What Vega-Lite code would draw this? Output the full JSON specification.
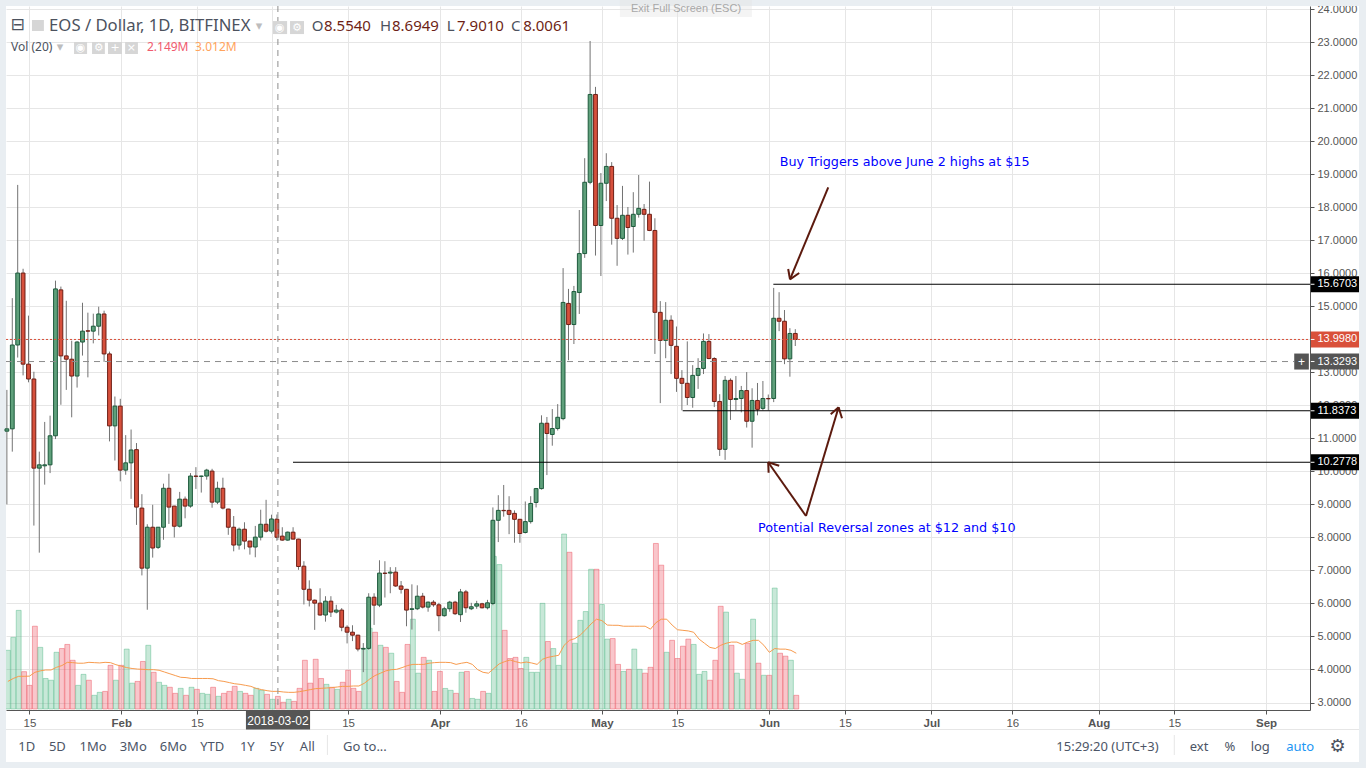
{
  "$schema": "https://vega.github.io/schema/vega-lite/v6.json",
  "description": "EOS / Dollar daily candles with volume, MA 20 and hand drawn support levels",
  "width": 1304,
  "height": 704,
  "autosize": "none",
  "padding": {"left": 6, "top": 6, "right": 56, "bottom": 58},
  "background": "#ffffff",
  "config": {"view": {"stroke": null}},
  "datasets": {
    "ohlc": [
      {"date":"2018-01-11","open":11.22,"high":12.47,"low":9.0,"close":11.29,"volume":10.0,"ma":4.7},
      {"date":"2018-01-12","open":11.29,"high":15.25,"low":10.6,"close":13.83,"volume":12.2,"ma":5.2},
      {"date":"2018-01-13","open":13.83,"high":18.68,"low":13.45,"close":16.01,"volume":16.8,"ma":5.57},
      {"date":"2018-01-14","open":16.01,"high":16.14,"low":12.91,"close":13.25,"volume":6.36,"ma":5.57},
      {"date":"2018-01-15","open":13.25,"high":14.72,"low":12.7,"close":12.8,"volume":4.03,"ma":5.6},
      {"date":"2018-01-16","open":12.8,"high":13.02,"low":8.36,"close":10.1,"volume":14.1,"ma":6.25},
      {"date":"2018-01-17","open":10.1,"high":10.6,"low":7.54,"close":10.2,"volume":10.5,"ma":6.5},
      {"date":"2018-01-18","open":10.17,"high":11.5,"low":9.6,"close":10.2,"volume":5.2,"ma":6.65},
      {"date":"2018-01-19","open":10.2,"high":11.69,"low":9.95,"close":11.08,"volume":4.9,"ma":6.65},
      {"date":"2018-01-20","open":11.08,"high":15.78,"low":10.98,"close":15.53,"volume":9.66,"ma":7.1},
      {"date":"2018-01-21","open":15.5,"high":15.6,"low":12.02,"close":13.5,"volume":10.3,"ma":7.4},
      {"date":"2018-01-22","open":13.5,"high":15.17,"low":12.47,"close":13.4,"volume":11.0,"ma":7.95},
      {"date":"2018-01-23","open":13.4,"high":13.96,"low":11.64,"close":12.89,"volume":8.3,"ma":7.9},
      {"date":"2018-01-24","open":12.89,"high":13.95,"low":12.54,"close":13.92,"volume":4.03,"ma":7.8},
      {"date":"2018-01-25","open":13.92,"high":15.11,"low":13.51,"close":14.25,"volume":5.9,"ma":7.8},
      {"date":"2018-01-26","open":14.26,"high":14.81,"low":12.85,"close":14.25,"volume":4.9,"ma":7.95},
      {"date":"2018-01-27","open":14.25,"high":14.78,"low":13.88,"close":14.4,"volume":2.33,"ma":7.9},
      {"date":"2018-01-28","open":14.4,"high":14.99,"low":14.12,"close":14.77,"volume":2.84,"ma":7.85},
      {"date":"2018-01-29","open":14.77,"high":14.87,"low":13.32,"close":13.56,"volume":3.0,"ma":7.95},
      {"date":"2018-01-30","open":13.56,"high":13.63,"low":10.91,"close":11.38,"volume":7.44,"ma":7.9},
      {"date":"2018-01-31","open":11.38,"high":12.27,"low":10.33,"close":11.98,"volume":4.9,"ma":7.55},
      {"date":"2018-02-01","open":11.98,"high":12.2,"low":9.7,"close":10.04,"volume":7.44,"ma":7.3},
      {"date":"2018-02-02","open":10.04,"high":11.1,"low":9.9,"close":10.26,"volume":10.2,"ma":7.05},
      {"date":"2018-02-03","open":10.26,"high":11.27,"low":9.17,"close":10.65,"volume":4.4,"ma":6.9},
      {"date":"2018-02-04","open":10.66,"high":10.86,"low":8.38,"close":8.92,"volume":4.7,"ma":6.8},
      {"date":"2018-02-05","open":8.89,"high":9.31,"low":6.85,"close":7.07,"volume":8.1,"ma":6.76},
      {"date":"2018-02-06","open":7.07,"high":8.4,"low":5.81,"close":8.31,"volume":10.85,"ma":6.7},
      {"date":"2018-02-07","open":8.31,"high":8.99,"low":7.39,"close":7.68,"volume":6.25,"ma":6.7},
      {"date":"2018-02-08","open":7.7,"high":8.31,"low":7.65,"close":8.31,"volume":4.55,"ma":6.6},
      {"date":"2018-02-09","open":8.31,"high":9.63,"low":7.93,"close":9.49,"volume":4.03,"ma":6.3},
      {"date":"2018-02-10","open":9.49,"high":9.93,"low":8.41,"close":8.92,"volume":3.7,"ma":6.0},
      {"date":"2018-02-11","open":8.95,"high":8.96,"low":8.0,"close":8.34,"volume":2.67,"ma":5.7},
      {"date":"2018-02-12","open":8.34,"high":9.38,"low":8.3,"close":9.16,"volume":3.52,"ma":5.4},
      {"date":"2018-02-13","open":9.16,"high":9.24,"low":8.58,"close":8.95,"volume":2.33,"ma":5.35},
      {"date":"2018-02-14","open":8.95,"high":9.95,"low":8.9,"close":9.86,"volume":3.7,"ma":5.2},
      {"date":"2018-02-15","open":9.86,"high":10.13,"low":9.47,"close":9.85,"volume":3.35,"ma":5.2},
      {"date":"2018-02-16","open":9.85,"high":9.87,"low":9.36,"close":9.86,"volume":2.67,"ma":5.2},
      {"date":"2018-02-17","open":9.86,"high":10.08,"low":9.75,"close":10.04,"volume":2.5,"ma":5.2},
      {"date":"2018-02-18","open":10.01,"high":10.08,"low":8.9,"close":9.07,"volume":3.7,"ma":5.15},
      {"date":"2018-02-19","open":9.07,"high":9.69,"low":9.01,"close":9.49,"volume":2.16,"ma":4.83},
      {"date":"2018-02-20","open":9.49,"high":9.81,"low":8.85,"close":8.89,"volume":2.67,"ma":4.7},
      {"date":"2018-02-21","open":8.86,"high":8.87,"low":8.08,"close":8.31,"volume":3.0,"ma":4.5},
      {"date":"2018-02-22","open":8.31,"high":8.65,"low":7.58,"close":7.77,"volume":3.86,"ma":4.3},
      {"date":"2018-02-23","open":7.77,"high":8.3,"low":7.63,"close":8.25,"volume":3.0,"ma":4.2},
      {"date":"2018-02-24","open":8.25,"high":8.46,"low":7.64,"close":7.89,"volume":2.67,"ma":4.03},
      {"date":"2018-02-25","open":7.89,"high":7.9,"low":7.48,"close":7.71,"volume":2.33,"ma":3.86},
      {"date":"2018-02-26","open":7.71,"high":8.35,"low":7.4,"close":8.01,"volume":3.52,"ma":3.5},
      {"date":"2018-02-27","open":8.01,"high":8.84,"low":7.91,"close":8.4,"volume":3.18,"ma":3.3},
      {"date":"2018-02-28","open":8.4,"high":9.14,"low":8.15,"close":8.19,"volume":2.5,"ma":3.12},
      {"date":"2018-03-01","open":8.19,"high":8.69,"low":8.12,"close":8.56,"volume":1.65,"ma":3.0},
      {"date":"2018-03-02","open":8.554,"high":8.6949,"low":7.901,"close":8.0061,"volume":2.149,"ma":3.012},
      {"date":"2018-03-03","open":8.04,"high":8.31,"low":7.9,"close":7.92,"volume":1.14,"ma":2.9},
      {"date":"2018-03-04","open":7.92,"high":8.18,"low":7.9,"close":8.16,"volume":1.65,"ma":2.84},
      {"date":"2018-03-05","open":8.16,"high":8.31,"low":7.94,"close":7.95,"volume":1.3,"ma":2.84},
      {"date":"2018-03-06","open":7.95,"high":7.96,"low":7.02,"close":7.12,"volume":3.52,"ma":2.95},
      {"date":"2018-03-07","open":7.13,"high":7.28,"low":5.97,"close":6.43,"volume":8.3,"ma":3.12},
      {"date":"2018-03-08","open":6.43,"high":6.7,"low":5.91,"close":6.1,"volume":4.4,"ma":3.3},
      {"date":"2018-03-09","open":6.1,"high":6.12,"low":5.2,"close":6.01,"volume":8.47,"ma":3.47},
      {"date":"2018-03-10","open":6.01,"high":6.46,"low":5.63,"close":5.65,"volume":5.2,"ma":3.52},
      {"date":"2018-03-11","open":5.65,"high":6.22,"low":5.45,"close":6.07,"volume":4.2,"ma":3.58},
      {"date":"2018-03-12","open":6.07,"high":6.22,"low":5.59,"close":5.74,"volume":3.7,"ma":3.64},
      {"date":"2018-03-13","open":5.74,"high":5.96,"low":5.7,"close":5.8,"volume":3.35,"ma":3.75},
      {"date":"2018-03-14","open":5.8,"high":5.86,"low":5.16,"close":5.28,"volume":4.55,"ma":3.86},
      {"date":"2018-03-15","open":5.28,"high":5.34,"low":4.79,"close":5.13,"volume":6.6,"ma":3.86},
      {"date":"2018-03-16","open":5.13,"high":5.34,"low":4.86,"close":5.04,"volume":3.52,"ma":3.92},
      {"date":"2018-03-17","open":5.04,"high":5.05,"low":4.55,"close":4.62,"volume":3.0,"ma":3.92},
      {"date":"2018-03-18","open":4.62,"high":4.8,"low":3.92,"close":4.64,"volume":10.2,"ma":4.38},
      {"date":"2018-03-19","open":4.64,"high":6.31,"low":4.6,"close":6.19,"volume":13.75,"ma":5.1},
      {"date":"2018-03-20","open":6.19,"high":6.31,"low":5.35,"close":5.95,"volume":13.07,"ma":5.7},
      {"date":"2018-03-21","open":5.95,"high":7.31,"low":5.89,"close":6.92,"volume":10.85,"ma":6.1},
      {"date":"2018-03-22","open":6.92,"high":7.28,"low":6.18,"close":6.91,"volume":10.5,"ma":6.5},
      {"date":"2018-03-23","open":6.92,"high":7.1,"low":6.31,"close":6.95,"volume":9.5,"ma":6.7},
      {"date":"2018-03-24","open":6.95,"high":7.1,"low":6.5,"close":6.53,"volume":4.7,"ma":6.76},
      {"date":"2018-03-25","open":6.53,"high":6.68,"low":6.3,"close":6.43,"volume":2.84,"ma":7.05},
      {"date":"2018-03-26","open":6.43,"high":6.44,"low":5.31,"close":5.8,"volume":11.0,"ma":7.4},
      {"date":"2018-03-27","open":5.82,"high":6.58,"low":5.21,"close":5.84,"volume":15.3,"ma":7.6},
      {"date":"2018-03-28","open":5.84,"high":6.55,"low":5.8,"close":6.22,"volume":6.1,"ma":7.6},
      {"date":"2018-03-29","open":6.22,"high":6.32,"low":5.85,"close":5.89,"volume":8.8,"ma":7.6},
      {"date":"2018-03-30","open":5.89,"high":6.06,"low":5.75,"close":6.04,"volume":8.3,"ma":7.8},
      {"date":"2018-03-31","open":6.04,"high":6.1,"low":5.9,"close":5.96,"volume":3.0,"ma":7.9},
      {"date":"2018-04-01","open":5.96,"high":6.02,"low":5.16,"close":5.63,"volume":6.4,"ma":7.95},
      {"date":"2018-04-02","open":5.63,"high":5.9,"low":5.6,"close":5.84,"volume":3.5,"ma":7.95},
      {"date":"2018-04-03","open":5.84,"high":6.08,"low":5.75,"close":6.04,"volume":3.18,"ma":7.9},
      {"date":"2018-04-04","open":6.04,"high":6.08,"low":5.65,"close":5.69,"volume":2.67,"ma":7.6},
      {"date":"2018-04-05","open":5.66,"high":6.44,"low":5.44,"close":6.35,"volume":6.25,"ma":7.8},
      {"date":"2018-04-06","open":6.35,"high":6.41,"low":5.72,"close":5.87,"volume":6.4,"ma":7.95},
      {"date":"2018-04-07","open":5.84,"high":6.02,"low":5.8,"close":5.9,"volume":1.8,"ma":7.6},
      {"date":"2018-04-08","open":5.92,"high":6.08,"low":5.84,"close":5.99,"volume":1.65,"ma":6.7},
      {"date":"2018-04-09","open":5.99,"high":6.02,"low":5.85,"close":5.87,"volume":3.0,"ma":6.25},
      {"date":"2018-04-10","open":5.87,"high":6.11,"low":5.82,"close":6.02,"volume":2.67,"ma":6.1},
      {"date":"2018-04-11","open":6.0,"high":8.91,"low":5.95,"close":8.52,"volume":26.0,"ma":6.9},
      {"date":"2018-04-12","open":8.52,"high":9.28,"low":7.86,"close":8.82,"volume":24.6,"ma":7.7},
      {"date":"2018-04-13","open":8.82,"high":9.59,"low":8.63,"close":8.81,"volume":13.4,"ma":8.07},
      {"date":"2018-04-14","open":8.82,"high":9.25,"low":8.1,"close":8.7,"volume":8.6,"ma":8.35},
      {"date":"2018-04-15","open":8.73,"high":8.82,"low":7.84,"close":8.55,"volume":8.8,"ma":8.07},
      {"date":"2018-04-16","open":8.55,"high":8.56,"low":7.84,"close":8.12,"volume":6.9,"ma":7.84},
      {"date":"2018-04-17","open":8.15,"high":9.09,"low":8.12,"close":8.48,"volume":8.8,"ma":8.0},
      {"date":"2018-04-18","open":8.48,"high":9.25,"low":8.42,"close":9.03,"volume":6.25,"ma":7.84},
      {"date":"2018-04-19","open":9.06,"high":9.5,"low":8.91,"close":9.48,"volume":6.25,"ma":7.6},
      {"date":"2018-04-20","open":9.48,"high":11.7,"low":9.45,"close":11.46,"volume":18.0,"ma":8.47},
      {"date":"2018-04-21","open":11.46,"high":11.65,"low":9.89,"close":11.15,"volume":11.5,"ma":8.8},
      {"date":"2018-04-22","open":11.12,"high":11.89,"low":10.78,"close":11.3,"volume":10.3,"ma":8.98},
      {"date":"2018-04-23","open":11.3,"high":12.04,"low":11.24,"close":11.64,"volume":7.44,"ma":9.15},
      {"date":"2018-04-24","open":11.6,"high":16.16,"low":11.55,"close":15.12,"volume":29.8,"ma":10.85},
      {"date":"2018-04-25","open":15.09,"high":15.53,"low":13.37,"close":14.45,"volume":26.7,"ma":11.7},
      {"date":"2018-04-26","open":14.45,"high":15.62,"low":13.86,"close":15.45,"volume":11.2,"ma":12.0},
      {"date":"2018-04-27","open":15.42,"high":17.92,"low":14.77,"close":16.6,"volume":15.1,"ma":12.6},
      {"date":"2018-04-28","open":16.6,"high":19.49,"low":16.47,"close":18.76,"volume":16.6,"ma":13.5},
      {"date":"2018-04-29","open":18.76,"high":23.04,"low":18.7,"close":21.42,"volume":23.8,"ma":14.5},
      {"date":"2018-04-30","open":21.42,"high":21.65,"low":16.54,"close":17.45,"volume":23.8,"ma":15.3},
      {"date":"2018-05-01","open":17.45,"high":19.04,"low":15.92,"close":18.73,"volume":17.8,"ma":15.06},
      {"date":"2018-05-02","open":18.73,"high":19.64,"low":18.19,"close":19.24,"volume":11.9,"ma":14.3},
      {"date":"2018-05-03","open":19.24,"high":19.37,"low":16.87,"close":17.67,"volume":12.0,"ma":14.26},
      {"date":"2018-05-04","open":17.67,"high":18.07,"low":16.23,"close":17.06,"volume":7.6,"ma":14.26},
      {"date":"2018-05-05","open":17.06,"high":18.65,"low":17.01,"close":17.76,"volume":6.4,"ma":14.1},
      {"date":"2018-05-06","open":17.76,"high":18.01,"low":16.57,"close":17.39,"volume":6.76,"ma":14.1},
      {"date":"2018-05-07","open":17.42,"high":18.46,"low":16.63,"close":17.79,"volume":10.2,"ma":14.1},
      {"date":"2018-05-08","open":17.79,"high":18.98,"low":17.69,"close":17.97,"volume":6.76,"ma":14.1},
      {"date":"2018-05-09","open":17.94,"high":18.1,"low":16.99,"close":17.79,"volume":6.1,"ma":14.1},
      {"date":"2018-05-10","open":17.79,"high":18.78,"low":17.28,"close":17.3,"volume":7.1,"ma":13.6},
      {"date":"2018-05-11","open":17.3,"high":17.67,"low":13.56,"close":14.82,"volume":28.2,"ma":14.7},
      {"date":"2018-05-12","open":14.82,"high":15.16,"low":12.07,"close":13.97,"volume":24.5,"ma":15.3},
      {"date":"2018-05-13","open":13.97,"high":15.13,"low":13.43,"close":14.58,"volume":9.66,"ma":15.3},
      {"date":"2018-05-14","open":14.58,"high":14.73,"low":12.95,"close":13.82,"volume":11.7,"ma":14.3},
      {"date":"2018-05-15","open":13.79,"high":14.39,"low":12.41,"close":12.82,"volume":8.6,"ma":13.5},
      {"date":"2018-05-16","open":12.82,"high":13.07,"low":11.85,"close":12.67,"volume":10.7,"ma":13.4},
      {"date":"2018-05-17","open":12.67,"high":13.94,"low":12.01,"close":12.24,"volume":11.9,"ma":13.3},
      {"date":"2018-05-18","open":12.24,"high":13.22,"low":11.93,"close":12.91,"volume":11.0,"ma":13.07},
      {"date":"2018-05-19","open":12.91,"high":13.43,"low":12.5,"close":13.12,"volume":5.9,"ma":11.9},
      {"date":"2018-05-20","open":13.12,"high":14.18,"low":12.95,"close":13.94,"volume":6.4,"ma":11.2},
      {"date":"2018-05-21","open":13.94,"high":14.16,"low":13.4,"close":13.42,"volume":4.9,"ma":10.5},
      {"date":"2018-05-22","open":13.42,"high":13.46,"low":11.95,"close":12.12,"volume":8.3,"ma":10.3},
      {"date":"2018-05-23","open":12.12,"high":12.34,"low":10.47,"close":10.67,"volume":17.5,"ma":10.85},
      {"date":"2018-05-24","open":10.67,"high":12.89,"low":10.35,"close":12.76,"volume":16.5,"ma":11.2},
      {"date":"2018-05-25","open":12.76,"high":12.82,"low":11.56,"close":12.18,"volume":10.85,"ma":11.4},
      {"date":"2018-05-26","open":12.18,"high":12.89,"low":11.86,"close":12.21,"volume":6.1,"ma":11.4},
      {"date":"2018-05-27","open":12.21,"high":12.59,"low":11.79,"close":12.45,"volume":5.06,"ma":11.0},
      {"date":"2018-05-28","open":12.45,"high":13.01,"low":11.33,"close":11.52,"volume":11.2,"ma":11.4},
      {"date":"2018-05-29","open":11.52,"high":12.52,"low":10.72,"close":12.15,"volume":15.3,"ma":11.7},
      {"date":"2018-05-30","open":12.15,"high":12.68,"low":11.7,"close":11.88,"volume":7.8,"ma":11.7},
      {"date":"2018-05-31","open":11.91,"high":12.74,"low":11.85,"close":12.21,"volume":5.74,"ma":10.85},
      {"date":"2018-06-01","open":12.21,"high":12.33,"low":11.85,"close":12.2,"volume":5.74,"ma":9.66},
      {"date":"2018-06-02","open":12.21,"high":15.56,"low":12.1,"close":14.64,"volume":20.6,"ma":10.3},
      {"date":"2018-06-03","open":14.64,"high":15.43,"low":14.25,"close":14.55,"volume":9.5,"ma":10.2},
      {"date":"2018-06-04","open":14.55,"high":14.89,"low":13.25,"close":13.41,"volume":9.0,"ma":10.2},
      {"date":"2018-06-05","open":13.41,"high":14.34,"low":12.87,"close":14.18,"volume":8.3,"ma":10.0},
      {"date":"2018-06-06","open":14.18,"high":14.31,"low":13.8,"close":13.998,"volume":2.33,"ma":9.5}
    ]
  },
  "encoding": {
    "x": {
      "field": "date",
      "type": "temporal",
      "title": null,
      "scale": {
        "type": "utc",
        "nice": false,
        "padding": 0,
        "domain": [
          {"year": 2018, "month": 1, "date": 10, "hours": 15, "minutes": 36, "utc": true},
          {"year": 2018, "month": 9, "date": 9, "hours": 3, "minutes": 7, "utc": true}
        ]
      },
      "axis": {
        "values": [
          {"year": 2018, "month": 1, "date": 15, "utc": true},
          {"year": 2018, "month": 2, "date": 1, "utc": true},
          {"year": 2018, "month": 2, "date": 15, "utc": true},
          {"year": 2018, "month": 3, "date": 1, "utc": true},
          {"year": 2018, "month": 3, "date": 15, "utc": true},
          {"year": 2018, "month": 4, "date": 1, "utc": true},
          {"year": 2018, "month": 4, "date": 16, "utc": true},
          {"year": 2018, "month": 5, "date": 1, "utc": true},
          {"year": 2018, "month": 5, "date": 15, "utc": true},
          {"year": 2018, "month": 6, "date": 1, "utc": true},
          {"year": 2018, "month": 6, "date": 15, "utc": true},
          {"year": 2018, "month": 7, "date": 1, "utc": true},
          {"year": 2018, "month": 7, "date": 16, "utc": true},
          {"year": 2018, "month": 8, "date": 1, "utc": true},
          {"year": 2018, "month": 8, "date": 15, "utc": true},
          {"year": 2018, "month": 9, "date": 1, "utc": true}
        ],
        "labelExpr": "utcmonth(datum.value) == 2 && utcdate(datum.value) == 1 ? '' : utcdate(datum.value) == 1 ? utcFormat(datum.value, '%b') : '' + utcdate(datum.value)",
        "labelFontWeight": {"condition": {"test": "utcdate(datum.value) == 1", "value": "bold"}, "value": "normal"},
        "labelFont": "Liberation Sans",
        "labelFontSize": 11.5,
        "labelColor": "#555555",
        "labelPadding": 3,
        "labelOverlap": false,
        "labelBound": false,
        "labelFlush": false,
        "grid": true,
        "gridColor": "#e6e6e6",
        "gridWidth": 1,
        "domainColor": "#555555",
        "tickColor": "#555555",
        "tickSize": 4
      }
    }
  },
  "layer": [
    {
      "data": {"name": "ohlc"},
      "encoding": {
        "y": {"field": "volume", "type": "quantitative", "stack": null, "axis": null, "scale": {"domain": [-0.17, 119.76], "nice": false, "zero": false}},
        "fill": {"condition": {"test": "datum.close >= datum.open", "value": "#53b987"}, "value": "#eb4d5c"},
        "stroke": {"condition": {"test": "datum.close >= datum.open", "value": "#53b987"}, "value": "#eb4d5c"}
      },
      "layer": [
        {"mark": {"type": "bar", "orient": "vertical", "size": 4.9, "fillOpacity": 0.32, "strokeOpacity": 0.45, "strokeWidth": 1}},
        {
          "mark": {"type": "line", "color": "#f79b4e", "strokeWidth": 1},
          "encoding": {
            "y": {"field": "ma", "type": "quantitative", "axis": null, "scale": {"domain": [-0.17, 119.76], "nice": false, "zero": false}},
            "fill": {"value": null},
            "stroke": {"value": "#f79b4e"}
          }
        }
      ]
    },
    {
      "encoding": {
        "y": {
          "field": "price",
          "type": "quantitative",
          "title": null,
          "scale": {"domain": [2.773, 24.1], "nice": false, "zero": false, "padding": 0},
          "axis": {
            "orient": "right",
            "values": [3,4,5,6,7,8,9,10,11,12,13,14,15,16,17,18,19,20,21,22,23,24],
            "format": ".4f",
            "labelFont": "Liberation Sans",
            "labelFontSize": 11,
            "labelColor": "#555555",
            "labelPadding": 3,
            "labelOverlap": false,
            "labelBound": false,
            "labelFlush": false,
            "grid": true,
            "gridColor": "#e6e6e6",
            "gridWidth": 1,
            "domainColor": "#555555",
            "tickColor": "#555555",
            "tickSize": 4
          }
        }
      },
      "layer": [
        {
          "data": {
            "values": [
              {"date": "2018-01-09T13:00:00Z", "date2": "2018-01-10T15:36:00Z", "price": 24.282, "price2": 1.016},
              {"date": "2018-01-09T13:00:00Z", "date2": "2018-09-19T12:00:00Z", "price": 24.282, "price2": 24.1},
              {"date": "2018-09-18T05:00:00Z", "date2": "2018-09-19T12:00:00Z", "price": 24.282, "price2": 1.016},
              {"date": "2018-01-09T13:00:00Z", "date2": "2018-09-19T12:00:00Z", "price": 1.198, "price2": 1.016}
            ],
            "format": {"parse": {"date": "date", "date2": "date"}}
          },
          "mark": {"type": "rect", "color": "#e9eef2"},
          "encoding": {"x2": {"field": "date2"}, "y2": {"field": "price2"}}
        },
        {
          "data": {
            "values": [
              {"date": "2018-01-10T15:36:00Z", "date2": "2018-09-18T05:00:00Z", "price": 2.182, "price2": 2.182},
              {"date": "2018-03-11T04:00:00Z", "date2": "2018-03-11T04:00:00Z", "price": 2.016, "price2": 1.41},
              {"date": "2018-08-15T00:00:00Z", "date2": "2018-08-15T00:00:00Z", "price": 2.016, "price2": 1.41}
            ],
            "format": {"parse": {"date": "date", "date2": "date"}}
          },
          "mark": {"type": "rule", "color": "#e6e6e6", "strokeWidth": 1},
          "encoding": {"x2": {"field": "date2"}, "y2": {"field": "price2"}}
        },
        {
          "data": {"name": "ohlc"},
          "mark": {"type": "rule", "color": "#737373", "strokeWidth": 1, "xOffset": -1},
          "encoding": {
            "y": {
              "field": "low",
              "type": "quantitative",
              "title": null,
              "scale": {"domain": [2.773, 24.1], "nice": false, "zero": false, "padding": 0},
              "axis": {
                "orient": "right",
                "values": [3,4,5,6,7,8,9,10,11,12,13,14,15,16,17,18,19,20,21,22,23,24],
                "format": ".4f",
                "labelFont": "Liberation Sans",
                "labelFontSize": 11,
                "labelColor": "#555555",
                "labelPadding": 3,
                "labelOverlap": false,
                "labelBound": false,
                "labelFlush": false,
                "grid": true,
                "gridColor": "#e6e6e6",
                "gridWidth": 1,
                "domainColor": "#555555",
                "tickColor": "#555555",
                "tickSize": 4
              }
            },
            "y2": {"field": "high"}
          }
        },
        {
          "data": {"name": "ohlc"},
          "mark": {"type": "bar", "orient": "vertical", "size": 3.8, "strokeWidth": 1, "xOffset": -1},
          "encoding": {
            "y": {
              "field": "open",
              "type": "quantitative",
              "title": null,
              "stack": null,
              "scale": {"domain": [2.773, 24.1], "nice": false, "zero": false, "padding": 0},
              "axis": {
                "orient": "right",
                "values": [3,4,5,6,7,8,9,10,11,12,13,14,15,16,17,18,19,20,21,22,23,24],
                "format": ".4f",
                "labelFont": "Liberation Sans",
                "labelFontSize": 11,
                "labelColor": "#555555",
                "labelPadding": 3,
                "labelOverlap": false,
                "labelBound": false,
                "labelFlush": false,
                "grid": true,
                "gridColor": "#e6e6e6",
                "gridWidth": 1,
                "domainColor": "#555555",
                "tickColor": "#555555",
                "tickSize": 4
              }
            },
            "y2": {"field": "close"},
            "fill": {"condition": {"test": "datum.close >= datum.open", "value": "#5fa07b"}, "value": "#d6503c"},
            "stroke": {"condition": {"test": "datum.close >= datum.open", "value": "#1d5a3c"}, "value": "#6e1f16"}
          }
        },
        {
          "data": {
            "values": [
              {"date": "2018-01-10T15:36:00Z", "date2": "2018-09-09T03:07:00Z", "price": 13.998, "price2": 13.998}
            ],
            "format": {"parse": {"date": "date", "date2": "date"}}
          },
          "mark": {"type": "rule", "color": "#d9503a", "strokeWidth": 1, "strokeDash": [2, 2]},
          "encoding": {"x2": {"field": "date2"}, "y2": {"field": "price2"}}
        },
        {
          "data": {
            "values": [
              {"date": "2018-01-10T15:36:00Z", "date2": "2018-09-06T05:00:00Z", "price": 13.3293, "price2": 13.3293},
              {"date": "2018-03-02T00:00:00Z", "date2": "2018-03-02T00:00:00Z", "price": 24.1, "price2": 2.773}
            ],
            "format": {"parse": {"date": "date", "date2": "date"}}
          },
          "mark": {"type": "rule", "color": "#8c8c8c", "strokeWidth": 1, "strokeDash": [6, 5]},
          "encoding": {"x2": {"field": "date2"}, "y2": {"field": "price2"}}
        },
        {
          "data": {
            "values": [
              {"date": "2018-06-01T18:00:00Z", "date2": "2018-09-09T03:07:00Z", "price": 15.6703, "price2": 15.6703},
              {"date": "2018-05-15T23:00:00Z", "date2": "2018-09-09T03:07:00Z", "price": 11.8373, "price2": 11.8373},
              {"date": "2018-03-04T19:00:00Z", "date2": "2018-09-09T03:07:00Z", "price": 10.2778, "price2": 10.2778}
            ],
            "format": {"parse": {"date": "date", "date2": "date"}}
          },
          "mark": {"type": "rule", "color": "#000000", "strokeWidth": 1.1},
          "encoding": {"x2": {"field": "date2"}, "y2": {"field": "price2"}}
        },
        {
          "data": {
            "values": [
              {"date": "2018-06-11T22:00:00Z", "price": 18.607, "date2": "2018-06-04T20:00:00Z", "price2": 15.82},
              {"date": "2018-06-04T20:00:00Z", "price": 15.82, "date2": "2018-06-04T12:00:00Z", "price2": 16.133},
              {"date": "2018-06-04T20:00:00Z", "price": 15.82, "date2": "2018-06-06T13:00:00Z", "price2": 16.011},
              {"date": "2018-06-07T19:00:00Z", "price": 8.65, "date2": "2018-06-13T20:00:00Z", "price2": 11.943},
              {"date": "2018-06-13T20:00:00Z", "price": 11.943, "date2": "2018-06-12T09:00:00Z", "price2": 11.731},
              {"date": "2018-06-13T20:00:00Z", "price": 11.943, "date2": "2018-06-14T11:00:00Z", "price2": 11.609},
              {"date": "2018-06-07T19:00:00Z", "price": 8.65, "date2": "2018-05-31T19:00:00Z", "price2": 10.277},
              {"date": "2018-05-31T19:00:00Z", "price": 10.277, "date2": "2018-05-31T21:00:00Z", "price2": 9.962},
              {"date": "2018-05-31T19:00:00Z", "price": 10.277, "date2": "2018-06-02T20:00:00Z", "price2": 10.174}
            ],
            "format": {"parse": {"date": "date", "date2": "date"}}
          },
          "mark": {"type": "rule", "color": "#5c1a0e", "strokeWidth": 2},
          "encoding": {"x2": {"field": "date2"}, "y2": {"field": "price2"}}
        },
        {
          "data": {
            "values": [
              {"date": "2018-06-02T22:00:00Z", "price": 19.374, "text": "Buy Triggers above June 2 highs at $15"},
              {"date": "2018-05-29T22:00:00Z", "price": 8.286, "text": "Potential Reversal zones at $12 and $10"}
            ],
            "format": {"parse": {"date": "date"}}
          },
          "mark": {"type": "text", "align": "left", "baseline": "middle", "font": "DejaVu Sans", "fontSize": 12.75, "color": "#0000ff"},
          "encoding": {"text": {"field": "text"}}
        },
        {
          "data": {
            "values": [
              {"date": "2018-09-09T07:00:00Z", "date2": "2018-09-18T05:00:00Z", "price": 15.6703, "kind": "level"},
              {"date": "2018-09-09T07:00:00Z", "date2": "2018-09-18T05:00:00Z", "price": 11.8373, "kind": "level"},
              {"date": "2018-09-09T07:00:00Z", "date2": "2018-09-18T05:00:00Z", "price": 10.2778, "kind": "level"},
              {"date": "2018-09-09T07:00:00Z", "date2": "2018-09-18T05:00:00Z", "price": 13.998, "kind": "last"},
              {"date": "2018-09-09T07:00:00Z", "date2": "2018-09-18T05:00:00Z", "price": 13.3293, "kind": "cross"},
              {"date": "2018-09-06T05:00:00Z", "date2": "2018-09-08T22:00:00Z", "price": 13.3293, "kind": "cross"}
            ],
            "format": {"parse": {"date": "date", "date2": "date"}}
          },
          "mark": {"type": "bar", "orient": "horizontal", "size": 16},
          "encoding": {
            "x2": {"field": "date2"},
            "color": {"field": "kind", "type": "nominal", "legend": null, "scale": {"domain": ["level", "last", "cross"], "range": ["#000000", "#d9503a", "#555555"]}}
          }
        },
        {
          "data": {
            "values": [
              {"date": "2018-09-09T07:00:00Z", "date2": "2018-09-09T23:00:00Z", "price": 15.6703, "price2": 15.6703},
              {"date": "2018-09-09T07:00:00Z", "date2": "2018-09-09T23:00:00Z", "price": 13.998, "price2": 13.998},
              {"date": "2018-09-09T07:00:00Z", "date2": "2018-09-09T23:00:00Z", "price": 13.3293, "price2": 13.3293},
              {"date": "2018-09-09T07:00:00Z", "date2": "2018-09-09T23:00:00Z", "price": 11.8373, "price2": 11.8373},
              {"date": "2018-09-09T07:00:00Z", "date2": "2018-09-09T23:00:00Z", "price": 10.2778, "price2": 10.2778}
            ],
            "format": {"parse": {"date": "date", "date2": "date"}}
          },
          "mark": {"type": "rule", "color": "#ffffff", "strokeWidth": 1},
          "encoding": {"x2": {"field": "date2"}, "y2": {"field": "price2"}}
        },
        {
          "data": {
            "values": [
              {"date": "2018-09-10T12:00:00Z", "price": 15.6703, "text": "15.6703"},
              {"date": "2018-09-10T12:00:00Z", "price": 13.998, "text": "13.9980"},
              {"date": "2018-09-10T12:00:00Z", "price": 13.3293, "text": "13.3293"},
              {"date": "2018-09-10T12:00:00Z", "price": 11.8373, "text": "11.8373"},
              {"date": "2018-09-10T12:00:00Z", "price": 10.2778, "text": "10.2778"}
            ],
            "format": {"parse": {"date": "date"}}
          },
          "mark": {"type": "text", "align": "left", "baseline": "middle", "font": "Liberation Sans", "fontSize": 11, "color": "#ffffff"},
          "encoding": {"text": {"field": "text"}}
        },
        {
          "data": {
            "values": [
              {"date": "2018-02-24T02:00:00Z", "date2": "2018-03-07T23:00:00Z", "price": 2.743, "price2": 2.182}
            ],
            "format": {"parse": {"date": "date", "date2": "date"}}
          },
          "mark": {"type": "rect", "color": "#555555"},
          "encoding": {"x2": {"field": "date2"}, "y2": {"field": "price2"}}
        },
        {
          "data": {
            "values": [
              {"date": "2018-09-07T13:00:00Z", "price": 13.3293, "text": "+"},
              {"date": "2018-03-02T00:00:00Z", "price": 2.44, "text": "2018-03-02"}
            ],
            "format": {"parse": {"date": "date"}}
          },
          "mark": {"type": "text", "align": "center", "baseline": "middle", "font": "Liberation Sans", "fontSize": 12, "color": "#ffffff"},
          "encoding": {"text": {"field": "text"}}
        },
        {
          "data": {
            "values": [
              {"date": "2018-05-04T08:00:00Z", "date2": "2018-05-28T19:00:00Z", "price": 24.28, "price2": 23.77}
            ],
            "format": {"parse": {"date": "date", "date2": "date"}}
          },
          "mark": {"type": "rect", "color": "#e4e4e4", "opacity": 0.4},
          "encoding": {"x2": {"field": "date2"}, "y2": {"field": "price2"}}
        },
        {
          "data": {
            "values": [{"date": "2018-05-16T14:00:00Z", "price": 24.009, "text": "Exit Full Screen (ESC)"}],
            "format": {"parse": {"date": "date"}}
          },
          "mark": {"type": "text", "align": "center", "baseline": "middle", "font": "Liberation Sans", "fontSize": 11, "color": "#a8a8a8"},
          "encoding": {"text": {"field": "text"}}
        },
        {
          "data": {
            "values": [
              {"date": "2018-01-15T11:00:00Z", "date2": "2018-01-17T16:00:00Z", "price": 23.675, "price2": 23.342},
              {"date": "2018-03-01T02:00:00Z", "date2": "2018-03-03T17:00:00Z", "price": 23.644, "price2": 23.25},
              {"date": "2018-03-04T06:00:00Z", "date2": "2018-03-06T20:00:00Z", "price": 23.644, "price2": 23.25},
              {"date": "2018-01-23T06:00:00Z", "date2": "2018-01-25T16:00:00Z", "price": 23.008, "price2": 22.645},
              {"date": "2018-01-26T14:00:00Z", "date2": "2018-01-28T23:00:00Z", "price": 23.008, "price2": 22.645},
              {"date": "2018-01-29T13:00:00Z", "date2": "2018-02-01T03:00:00Z", "price": 23.008, "price2": 22.645},
              {"date": "2018-02-01T17:00:00Z", "date2": "2018-02-04T02:00:00Z", "price": 23.008, "price2": 22.645}
            ],
            "format": {"parse": {"date": "date", "date2": "date"}}
          },
          "mark": {"type": "rect", "color": "#d6d6d6"},
          "encoding": {"x2": {"field": "date2"}, "y2": {"field": "price2"}}
        },
        {
          "data": {
            "values": [
              {"date": "2018-03-02T09:00:00Z", "price": 23.447, "text": "◉"},
              {"date": "2018-03-05T13:00:00Z", "price": 23.447, "text": "⚙"},
              {"date": "2018-01-24T11:00:00Z", "price": 22.827, "text": "◉"},
              {"date": "2018-01-27T19:00:00Z", "price": 22.827, "text": "⚙"},
              {"date": "2018-01-30T20:00:00Z", "price": 22.827, "text": "+"},
              {"date": "2018-02-02T21:00:00Z", "price": 22.827, "text": "×"}
            ],
            "format": {"parse": {"date": "date"}}
          },
          "mark": {"type": "text", "align": "center", "baseline": "middle", "font": "DejaVu Sans", "fontSize": 11, "color": "#ffffff"},
          "encoding": {"text": {"field": "text"}}
        },
        {
          "data": {
            "values": [
              {"date": "2018-01-12T19:00:00Z", "price": 23.525, "text": "⊟"}
            ],
            "format": {"parse": {"date": "date"}}
          },
          "mark": {"type": "text", "align": "center", "baseline": "middle", "font": "DejaVu Sans", "fontSize": 17, "color": "#4c525e"},
          "encoding": {"text": {"field": "text"}}
        },
        {
          "data": {
            "values": [
              {"date": "2018-02-26T12:00:00Z", "price": 23.494, "text": "▾"},
              {"date": "2018-01-20T16:00:00Z", "price": 22.858, "text": "▾"}
            ],
            "format": {"parse": {"date": "date"}}
          },
          "mark": {"type": "text", "align": "center", "baseline": "middle", "font": "DejaVu Sans", "fontSize": 13, "color": "#bdbdbd"},
          "encoding": {"text": {"field": "text"}}
        },
        {
          "data": {
            "values": [
              {"date": "2018-01-18T15:00:00Z", "price": 23.494, "text": "EOS / Dollar, 1D, BITFINEX"}
            ],
            "format": {"parse": {"date": "date"}}
          },
          "mark": {"type": "text", "align": "left", "baseline": "middle", "font": "Noto Sans", "fontSize": 16.7, "color": "#4c525e"},
          "encoding": {"text": {"field": "text"}}
        },
        {
          "data": {
            "values": [
              {"date": "2018-03-08T07:00:00Z", "price": 23.494, "text": "O"},
              {"date": "2018-03-20T22:00:00Z", "price": 23.494, "text": "H"},
              {"date": "2018-04-02T07:00:00Z", "price": 23.494, "text": "L"},
              {"date": "2018-04-14T04:00:00Z", "price": 23.494, "text": "C"}
            ],
            "format": {"parse": {"date": "date"}}
          },
          "mark": {"type": "text", "align": "left", "baseline": "middle", "font": "Noto Sans", "fontSize": 15, "color": "#4c525e"},
          "encoding": {"text": {"field": "text"}}
        },
        {
          "data": {
            "values": [
              {"date": "2018-03-10T13:00:00Z", "price": 23.494, "text": "8.5540"},
              {"date": "2018-03-23T03:00:00Z", "price": 23.494, "text": "8.6949"},
              {"date": "2018-04-04T04:00:00Z", "price": 23.494, "text": "7.9010"},
              {"date": "2018-04-16T10:00:00Z", "price": 23.494, "text": "8.0061"}
            ],
            "format": {"parse": {"date": "date"}}
          },
          "mark": {"type": "text", "align": "left", "baseline": "middle", "font": "Noto Sans", "fontSize": 15, "color": "#6e1f16"},
          "encoding": {"text": {"field": "text"}}
        },
        {
          "data": {
            "values": [{"date": "2018-01-11T14:00:00Z", "price": 22.858, "text": "Vol (20)"}],
            "format": {"parse": {"date": "date"}}
          },
          "mark": {"type": "text", "align": "left", "baseline": "middle", "font": "Noto Sans", "fontSize": 12, "color": "#4c525e"},
          "encoding": {"text": {"field": "text"}}
        },
        {
          "data": {
            "values": [{"date": "2018-02-05T18:00:00Z", "price": 22.858, "text": "2.149M"}],
            "format": {"parse": {"date": "date"}}
          },
          "mark": {"type": "text", "align": "left", "baseline": "middle", "font": "Noto Sans", "fontSize": 12, "color": "#f05a6e"},
          "encoding": {"text": {"field": "text"}}
        },
        {
          "data": {
            "values": [{"date": "2018-02-14T16:00:00Z", "price": 22.858, "text": "3.012M"}],
            "format": {"parse": {"date": "date"}}
          },
          "mark": {"type": "text", "align": "left", "baseline": "middle", "font": "Noto Sans", "fontSize": 12, "color": "#ffa35c"},
          "encoding": {"text": {"field": "text"}}
        },
        {
          "data": {
            "values": [
              {"date": "2018-01-14T12:00:00Z", "price": 1.661, "text": "1D"},
              {"date": "2018-01-20T04:00:00Z", "price": 1.661, "text": "5D"},
              {"date": "2018-01-26T19:00:00Z", "price": 1.661, "text": "1Mo"},
              {"date": "2018-02-03T05:00:00Z", "price": 1.661, "text": "3Mo"},
              {"date": "2018-02-10T15:00:00Z", "price": 1.661, "text": "6Mo"},
              {"date": "2018-02-17T20:00:00Z", "price": 1.661, "text": "YTD"},
              {"date": "2018-02-24T08:00:00Z", "price": 1.661, "text": "1Y"},
              {"date": "2018-03-01T19:00:00Z", "price": 1.661, "text": "5Y"},
              {"date": "2018-03-07T11:00:00Z", "price": 1.661, "text": "All"},
              {"date": "2018-03-18T03:00:00Z", "price": 1.661, "text": "Go to..."},
              {"date": "2018-08-02T15:00:00Z", "price": 1.661, "text": "15:29:20 (UTC+3)"},
              {"date": "2018-08-19T14:00:00Z", "price": 1.661, "text": "ext"},
              {"date": "2018-08-25T07:00:00Z", "price": 1.661, "text": "%"},
              {"date": "2018-08-30T22:00:00Z", "price": 1.661, "text": "log"}
            ],
            "format": {"parse": {"date": "date"}}
          },
          "mark": {"type": "text", "align": "center", "baseline": "middle", "font": "Noto Sans", "fontSize": 13, "color": "#4c5566"},
          "encoding": {"text": {"field": "text"}}
        },
        {
          "data": {
            "values": [{"date": "2018-09-07T07:00:00Z", "price": 1.661, "text": "auto"}],
            "format": {"parse": {"date": "date"}}
          },
          "mark": {"type": "text", "align": "center", "baseline": "middle", "font": "Noto Sans", "fontSize": 13, "color": "#2196f3"},
          "encoding": {"text": {"field": "text"}}
        },
        {
          "data": {
            "values": [{"date": "2018-09-14T06:00:00Z", "price": 1.661, "text": "⚙"}],
            "format": {"parse": {"date": "date"}}
          },
          "mark": {"type": "text", "align": "center", "baseline": "middle", "font": "DejaVu Sans", "fontSize": 18, "color": "#4c525e"},
          "encoding": {"text": {"field": "text"}}
        }
      ]
    }
  ],
  "resolve": {"scale": {"y": "independent"}}
}
